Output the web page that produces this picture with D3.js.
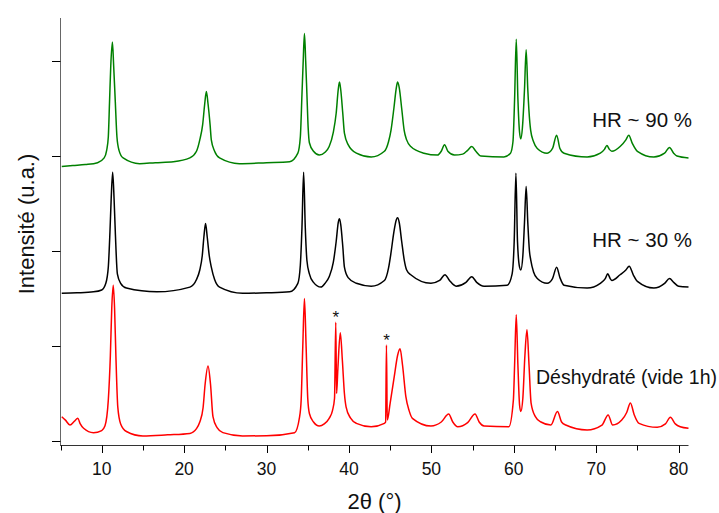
<!DOCTYPE html>
<html>
<head>
<meta charset="utf-8">
<script src="https://cdn.jsdelivr.net/npm/d3@7"></script>
<style>
  html, body { margin: 0; padding: 0; background: #fff; }
  svg { display: block; font-family: "Liberation Sans", Arial, sans-serif; }
</style>
</head>
<body>
<svg id="chart" width="719" height="513"></svg>
<script>
// ---- data ----
const xTicks = [10, 20, 30, 40, 50, 60, 70, 80];
const xMinorTicks = [5, 15, 25, 35, 45, 55, 65, 75];
const yTicks = [0, 1, 2, 3, 4];
const xTitle = "2θ (°)";
const yTitle = "Intensité (u.a.)";
const seriesNames = ["HR ~ 90 %", "HR ~ 30 %", "Déshydraté (vide 1h)"];

// pattern HR ~ 90 % : [2θ, intensity]
const greenPattern = [
  [5.15,2.89],[6.5,2.9],[8,2.91],[9.5,2.93],[10.3,2.98],[10.6,3.06],[10.8,3.2],[10.95,3.57],[11.1,3.95],[11.3,4.2],
  [11.45,3.95],[11.65,3.57],[11.85,3.2],[12.1,3.06],[12.6,2.98],[14.6,2.92],[16.5,2.93],[18.7,2.94],[20.7,2.98],
  [21.5,3.05],[21.9,3.17],[22.25,3.33],[22.5,3.55],[22.7,3.68],[22.9,3.55],[23.15,3.33],[23.3,3.17],[23.7,3.05],
  [24.3,2.98],[26.7,2.92],[30,2.93],[32.8,2.94],[33.8,3.03],[34.1,3.2],[34.3,3.65],[34.45,4.0],[34.6,4.29],
  [34.75,4.0],[34.9,3.65],[35.05,3.3],[35.2,3.14],[35.7,3.05],[36.4,3.01],[37.1,3.04],[37.6,3.1],[38.1,3.25],
  [38.45,3.45],[38.7,3.7],[38.85,3.78],[39.0,3.7],[39.25,3.45],[39.45,3.24],[39.9,3.12],[40.9,3.03],[42.7,2.99],
  [44.3,3.05],[44.8,3.15],[45.1,3.27],[45.45,3.5],[45.75,3.72],[45.9,3.78],[46.1,3.72],[46.4,3.5],[46.7,3.27],
  [47.0,3.17],[47.5,3.1],[49.1,3.03],[50.75,3.01],[51.2,3.05],[51.6,3.12],[52.0,3.05],[52.8,3.01],[53.8,3.02],
  [54.4,3.06],[54.9,3.1],[55.4,3.05],[56.0,3.0],[58.8,2.99],[59.6,3.03],[59.9,3.15],[60.1,3.6],[60.3,4.23],
  [60.5,3.6],[60.7,3.25],[60.85,3.18],[61.05,3.3],[61.3,3.7],[61.5,4.12],[61.7,3.7],[61.95,3.35],[62.05,3.27],
  [62.4,3.15],[62.85,3.08],[64.05,3.03],[64.7,3.08],[65.2,3.22],[65.6,3.08],[66.1,3.03],[68.9,2.99],[70.5,3.03],
  [71.0,3.07],[71.3,3.11],[71.6,3.07],[71.9,3.05],[72.9,3.1],[73.6,3.17],[73.95,3.22],[74.4,3.13],[75.0,3.05],
  [77.0,2.99],[78.3,3.03],[78.9,3.09],[79.4,3.03],[79.8,3.0],[81.2,2.98]
];

// pattern HR ~ 30 %
const blackPattern = [
  [5.15,1.555],[7,1.56],[9,1.57],[10.0,1.59],[10.5,1.66],[10.8,1.83],[11.0,2.2],[11.15,2.55],[11.33,2.83],
  [11.5,2.55],[11.65,2.2],[11.9,1.76],[12.3,1.66],[13.0,1.61],[16.7,1.57],[20.7,1.62],[21.5,1.7],[21.9,1.8],
  [22.2,1.95],[22.4,2.15],[22.6,2.29],[22.8,2.15],[23.05,1.95],[23.3,1.83],[23.7,1.7],[24.3,1.62],[27.1,1.555],
  [30,1.56],[32.8,1.57],[33.8,1.66],[34.1,1.85],[34.3,2.25],[34.5,2.83],[34.7,2.25],[34.9,1.9],[35.2,1.76],
  [35.7,1.67],[36.6,1.62],[37.1,1.66],[37.6,1.73],[38.1,1.88],[38.45,2.1],[38.7,2.3],[38.85,2.34],[39.0,2.28],
  [39.25,2.05],[39.45,1.83],[39.9,1.72],[40.9,1.66],[42.7,1.63],[44.3,1.69],[44.8,1.82],[45.1,1.98],[45.45,2.2],
  [45.75,2.33],[45.9,2.35],[46.1,2.3],[46.4,2.1],[46.7,1.91],[47.0,1.8],[47.5,1.75],[49.95,1.66],[51.0,1.69],
  [51.65,1.75],[52.2,1.69],[53.0,1.63],[54.2,1.67],[54.9,1.73],[55.5,1.67],[56.4,1.63],[59.2,1.64],[59.8,1.76],
  [60.05,2.1],[60.26,2.82],[60.45,2.1],[60.7,1.83],[60.85,1.8],[61.1,1.95],[61.3,2.3],[61.5,2.68],[61.7,2.3],
  [61.9,2.0],[62.05,1.91],[62.4,1.78],[62.85,1.71],[64.05,1.66],[64.7,1.71],[65.2,1.83],[65.6,1.72],[66.1,1.64],
  [68.9,1.61],[70.5,1.66],[71.1,1.71],[71.4,1.76],[71.7,1.71],[71.9,1.69],[72.9,1.75],[73.6,1.8],[74.0,1.84],
  [74.5,1.75],[75.0,1.68],[77.0,1.61],[78.3,1.66],[78.9,1.71],[79.4,1.67],[80.0,1.63],[81.2,1.62]
];

// pattern Déshydraté (vide 1h)
const redPattern = [
  [5.15,0.256],[5.6,0.22],[6.15,0.168],[6.7,0.21],[7.1,0.239],[7.4,0.18],[7.8,0.134],[9.0,0.088],[10.0,0.11],
  [10.4,0.16],[10.8,0.43],[11.05,0.9],[11.22,1.4],[11.4,1.64],[11.56,1.4],[11.72,0.9],[11.95,0.36],[12.3,0.18],
  [13.0,0.1],[15.0,0.053],[18,0.065],[20.7,0.08],[21.5,0.13],[21.9,0.2],[22.3,0.35],[22.55,0.6],[22.9,0.79],
  [23.2,0.6],[23.5,0.256],[24.0,0.14],[24.7,0.088],[27.1,0.053],[30,0.055],[33.4,0.088],[34.0,0.25],[34.2,0.43],
  [34.4,1.0],[34.6,1.5],[34.8,1.0],[35.0,0.45],[35.2,0.29],[35.7,0.2],[36.4,0.158],[37.0,0.18],[37.6,0.239],
  [38.0,0.32],[38.25,0.45],[38.4,1.25],[38.5,0.5],[38.65,0.75],[38.95,1.14],[39.2,0.85],[39.45,0.5],[39.65,0.36],
  [40.2,0.24],[40.9,0.186],[42.7,0.15],[44.3,0.186],[44.45,0.2],[44.55,1.01],[44.65,0.22],[45.0,0.4],[45.5,0.68],
  [45.9,0.9],[46.2,0.97],[46.5,0.8],[46.9,0.47],[47.3,0.32],[47.7,0.239],[49.95,0.158],[51.2,0.2],[52.1,0.284],
  [52.6,0.2],[53.2,0.15],[54.4,0.193],[55.3,0.284],[55.8,0.2],[56.4,0.158],[59.4,0.15],[59.95,0.43],[60.1,0.8],
  [60.3,1.33],[60.5,0.8],[60.7,0.38],[60.85,0.31],[61.1,0.45],[61.35,0.9],[61.6,1.17],[61.85,0.8],[62.1,0.4],
  [62.6,0.26],[63.3,0.2],[64.5,0.168],[65.3,0.31],[65.8,0.2],[66.3,0.168],[68.9,0.116],[70.7,0.168],[71.45,0.274],
  [72.0,0.168],[73.1,0.22],[73.7,0.3],[74.15,0.4],[74.6,0.28],[75.2,0.186],[77.4,0.144],[78.4,0.18],[79.0,0.25],
  [79.6,0.18],[80.2,0.15],[81.2,0.134]
];

// impurity peaks marked with "*"
const starPeaks = [[38.4, 1.25], [44.55, 1.01]];

// ---- drawing ----
const svg = d3.select("#chart");
const x = d3.scaleLinear().domain([5, 81.2]).range([60.5, 688.5]);
const y = d3.scaleLinear().domain([-0.042, 4.453]).range([445, 18]);

const series = [
  { name: seriesNames[0], data: greenPattern, color: "#008000", labelY: 3.31, anchorPx: 692 },
  { name: seriesNames[1], data: blackPattern, color: "#000000", labelY: 2.04, anchorPx: 692 },
  { name: seriesNames[2], data: redPattern,   color: "#ff0000", labelY: 0.6,  anchorPx: 717 }
];

const line = d3.line()
  .x(d => x(d[0]))
  .y(d => y(d[1]))
  .curve(d3.curveMonotoneX);

// traces (red first so it's at bottom, order irrelevant as they don't overlap)
series.slice().reverse().forEach(s => {
  svg.append("path")
    .datum(s.data)
    .attr("fill", "none")
    .attr("stroke", s.color)
    .attr("stroke-width", 1.5)
    .attr("stroke-linejoin", "round")
    .attr("d", line);
});

// x axis
const xAxisG = svg.append("g").attr("transform", "translate(0,445)");
xAxisG.append("line")
  .attr("x1", x(5) - 0.5).attr("x2", x(81.2))
  .attr("y1", 0.5).attr("y2", 0.5)
  .attr("stroke", "#333").attr("stroke-width", 1);
xAxisG.selectAll(".major").data(xTicks).join("line")
  .attr("x1", d => Math.round(x(d)) + 0.5).attr("x2", d => Math.round(x(d)) + 0.5)
  .attr("y1", 0.5).attr("y2", 8)
  .attr("stroke", "#000");
xAxisG.selectAll(".minor").data(xMinorTicks).join("line")
  .attr("x1", d => Math.round(x(d)) + 0.5).attr("x2", d => Math.round(x(d)) + 0.5)
  .attr("y1", 0.5).attr("y2", 5.5)
  .attr("stroke", "#000");
xAxisG.selectAll("text").data(xTicks).join("text")
  .attr("x", d => x(d))
  .attr("y", 30)
  .attr("text-anchor", "middle")
  .attr("font-size", "17.5px")
  .attr("fill", "#111")
  .text(d => d);

// y axis
const yAxisG = svg.append("g");
yAxisG.append("line")
  .attr("x1", 60.5).attr("x2", 60.5)
  .attr("y1", 18).attr("y2", 445.5)
  .attr("stroke", "#666").attr("stroke-width", 1);
yAxisG.selectAll("line.tick").data(yTicks).join("line")
  .attr("class", "tick")
  .attr("x1", 52).attr("x2", 60.5)
  .attr("y1", d => Math.round(y(d)) + 0.5).attr("y2", d => Math.round(y(d)) + 0.5)
  .attr("stroke", "#000");

// axis titles
svg.append("text")
  .attr("x", (x(5) + x(81.2)) / 2)
  .attr("y", 509)
  .attr("text-anchor", "middle")
  .attr("font-size", "22px")
  .attr("fill", "#111")
  .text(xTitle);

svg.append("text")
  .attr("transform", "translate(34,224) rotate(-90)")
  .attr("text-anchor", "middle")
  .attr("font-size", "22px")
  .attr("fill", "#111")
  .text(yTitle);

// series labels
series.forEach(s => {
  svg.append("text")
    .attr("x", s.anchorPx)
    .attr("y", y(s.labelY))
    .attr("text-anchor", "end")
    .attr("font-size", s.name.startsWith("HR") ? "20.5px" : "19.5px")
    .attr("fill", "#111")
    .text(s.name);
});

// stars
svg.selectAll("text.star").data(starPeaks).join("text")
  .attr("class", "star")
  .attr("x", d => x(d[0]))
  .attr("y", d => y(d[1]) + 1)
  .attr("text-anchor", "middle")
  .attr("font-size", "17px")
  .attr("fill", "#111")
  .text("*");
</script>
</body>
</html>
